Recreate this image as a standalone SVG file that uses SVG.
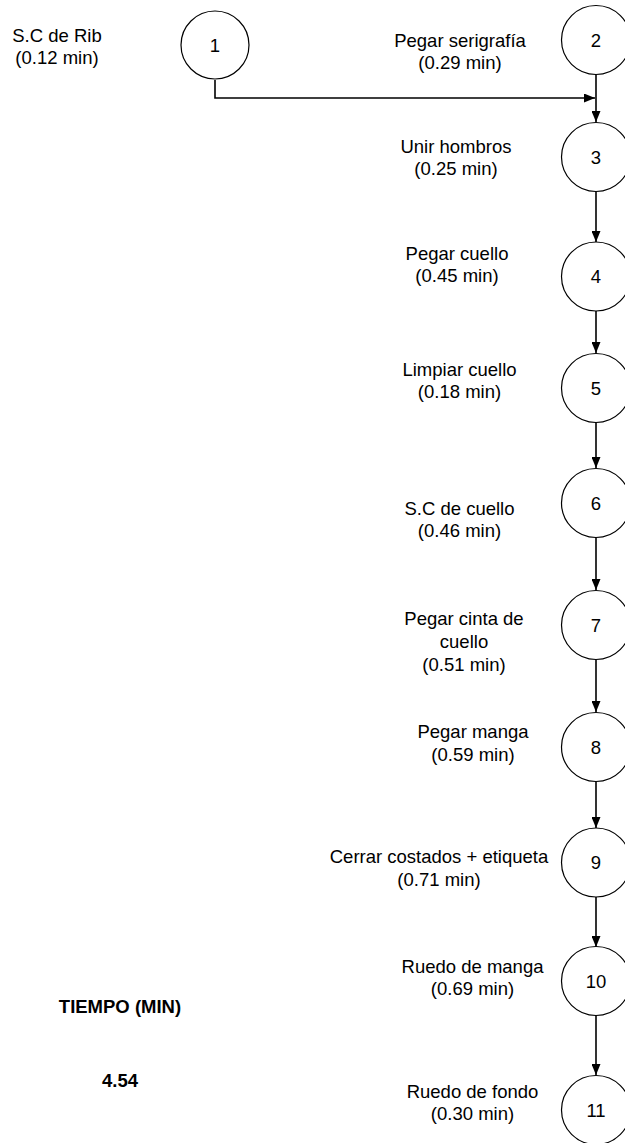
<svg xmlns="http://www.w3.org/2000/svg" width="625" height="1143" viewBox="0 0 625 1143">
  <style>
    .node circle { fill: #ffffff; stroke: #000000; stroke-width: 1.2; }
    .num { font-family: "Liberation Sans", Arial, sans-serif; font-size: 18.5px; fill: #000; text-anchor: middle; }
    .lbl { font-family: "Liberation Sans", Arial, sans-serif; font-size: 18.5px; fill: #000; text-anchor: middle; }
    .bold { font-family: "Liberation Sans", Arial, sans-serif; font-size: 18.5px; font-weight: bold; fill: #000; text-anchor: middle; }
    .edge { fill: none; stroke: #000000; stroke-width: 1.6; }
  </style>
  <defs>
    <marker id="arrow" viewBox="0 0 11 9" refX="11" refY="4.5" markerWidth="11" markerHeight="9" markerUnits="userSpaceOnUse" orient="auto">
      <path d="M0,0 L11,4.5 L0,9 Z" fill="#000000"/>
    </marker>
  </defs>
  <rect width="625" height="1143" fill="#ffffff"/>

  <!-- connectors -->
  <g id="connectors">
    <path class="edge" d="M215,80 V98 H595" marker-end="url(#arrow)"/>
    <path class="edge" d="M596,75 V122" marker-end="url(#arrow)"/>
    <path class="edge" d="M596,192 V242" marker-end="url(#arrow)"/>
    <path class="edge" d="M596,311 V353" marker-end="url(#arrow)"/>
    <path class="edge" d="M596,423 V468" marker-end="url(#arrow)"/>
    <path class="edge" d="M596,538 V590" marker-end="url(#arrow)"/>
    <path class="edge" d="M596,660 V712" marker-end="url(#arrow)"/>
    <path class="edge" d="M596,782 V828" marker-end="url(#arrow)"/>
    <path class="edge" d="M596,897 V947" marker-end="url(#arrow)"/>
    <path class="edge" d="M596,1015 V1075" marker-end="url(#arrow)"/>
  </g>

  <!-- process nodes -->
  <g id="node1" class="node">
    <circle cx="215" cy="45" r="34"/>
    <text class="num" x="215" y="52">1</text>
    <text class="lbl" x="57" y="42">S.C de Rib</text>
    <text class="lbl" x="57" y="64">(0.12 min)</text>
  </g>
  <g id="node2" class="node">
    <circle cx="596" cy="40" r="34.5"/>
    <text class="num" x="596" y="47">2</text>
    <text class="lbl" x="460" y="47">Pegar serigrafía</text>
    <text class="lbl" x="460" y="69">(0.29 min)</text>
  </g>
  <g id="node3" class="node">
    <circle cx="596" cy="157" r="34.5"/>
    <text class="num" x="596" y="164">3</text>
    <text class="lbl" x="456" y="153">Unir hombros</text>
    <text class="lbl" x="456" y="175">(0.25 min)</text>
  </g>
  <g id="node4" class="node">
    <circle cx="596" cy="276.5" r="34.5"/>
    <text class="num" x="596" y="283">4</text>
    <text class="lbl" x="457" y="260">Pegar cuello</text>
    <text class="lbl" x="457" y="282">(0.45 min)</text>
  </g>
  <g id="node5" class="node">
    <circle cx="596" cy="388" r="34.5"/>
    <text class="num" x="596" y="395">5</text>
    <text class="lbl" x="459.5" y="376">Limpiar cuello</text>
    <text class="lbl" x="459.5" y="398">(0.18 min)</text>
  </g>
  <g id="node6" class="node">
    <circle cx="596" cy="503" r="34.5"/>
    <text class="num" x="596" y="510">6</text>
    <text class="lbl" x="459.5" y="515">S.C de cuello</text>
    <text class="lbl" x="459.5" y="537">(0.46 min)</text>
  </g>
  <g id="node7" class="node">
    <circle cx="596" cy="625" r="34.5"/>
    <text class="num" x="596" y="632">7</text>
    <text class="lbl" x="464" y="625">Pegar cinta de</text>
    <text class="lbl" x="464" y="648">cuello</text>
    <text class="lbl" x="464" y="671">(0.51 min)</text>
  </g>
  <g id="node8" class="node">
    <circle cx="596" cy="747" r="34.5"/>
    <text class="num" x="596" y="754">8</text>
    <text class="lbl" x="473" y="738">Pegar manga</text>
    <text class="lbl" x="473" y="761">(0.59 min)</text>
  </g>
  <g id="node9" class="node">
    <circle cx="596" cy="862.5" r="34.5"/>
    <text class="num" x="596" y="869">9</text>
    <text class="lbl" x="439" y="863">Cerrar costados + etiqueta</text>
    <text class="lbl" x="439" y="886">(0.71 min)</text>
  </g>
  <g id="node10" class="node">
    <circle cx="596" cy="981" r="34.5"/>
    <text class="num" x="596" y="988">10</text>
    <text class="lbl" x="472.5" y="973">Ruedo de manga</text>
    <text class="lbl" x="472.5" y="995">(0.69 min)</text>
  </g>
  <g id="node11" class="node">
    <circle cx="596" cy="1110" r="34.5"/>
    <text class="num" x="596" y="1117">11</text>
    <text class="lbl" x="472.5" y="1098">Ruedo de fondo</text>
    <text class="lbl" x="472.5" y="1120">(0.30 min)</text>
  </g>

  <!-- total time -->
  <g id="total">
    <text class="bold" x="120" y="1013">TIEMPO (MIN)</text>
    <text class="bold" x="120" y="1087">4.54</text>
  </g>
</svg>
